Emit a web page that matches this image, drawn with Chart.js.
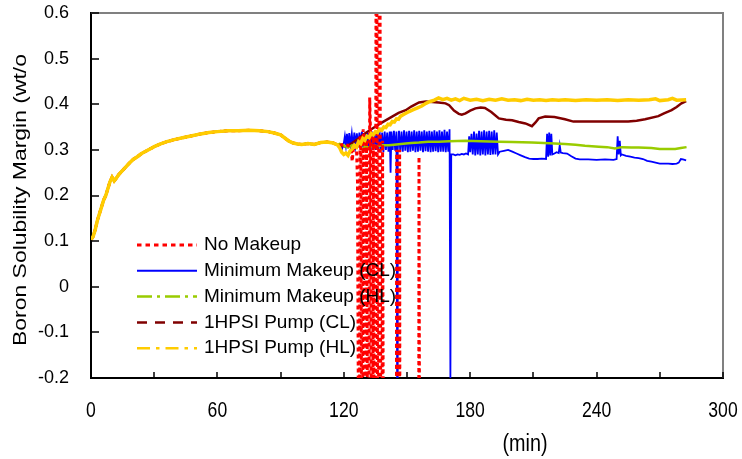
<!DOCTYPE html>
<html>
<head>
<meta charset="utf-8">
<script src="https://cdn.jsdelivr.net/npm/chart.js@4.4.1/dist/chart.umd.min.js"></script>
<style>
body { margin: 0; background: #fff; }
#wrap { width: 742px; height: 459px; }
</style>
</head>
<body>
<div id="wrap"><canvas id="myChart" width="742" height="459"></canvas></div>
<script>
const xTickValues = [0, 60, 120, 180, 240, 300];
const xTickLabels = ['0', '60', '120', '180', '240', '300'];
const xTickMarks = [0, 30, 60, 90, 120, 150, 180, 210, 240, 270, 300];
const yTickValues = [-0.2, -0.1, 0, 0.1, 0.2, 0.3, 0.4, 0.5, 0.6];
const yTickLabels = ['-0.2', '-0.1', '0', '0.1', '0.2', '0.3', '0.4', '0.5', '0.6'];
const xTitle = '(min)';
const yTitle = 'Boron Solubility Margin (wt/o';

const seriesNames = ['No Makeup', 'Minimum Makeup (CL)', 'Minimum Makeup (HL)', '1HPSI Pump (CL)', '1HPSI Pump (HL)'];

// 0~117분은 다섯 경우 모두 같은 곡선
const baseT = [0, 1, 2, 3, 4, 5, 6, 7, 8, 9, 10, 11, 12, 13, 14, 16, 18, 20, 22, 24, 26, 28, 30, 33, 36, 40, 44, 48, 52, 56, 60, 65, 70, 75, 80, 84, 87, 90, 92, 94, 96, 98, 100, 103, 106, 109, 112, 115, 117];
const baseV = [0.103, 0.11, 0.125, 0.145, 0.16, 0.175, 0.19, 0.2, 0.215, 0.23, 0.24, 0.232, 0.238, 0.245, 0.25, 0.26, 0.27, 0.279, 0.285, 0.292, 0.297, 0.302, 0.307, 0.313, 0.318, 0.323, 0.327, 0.331, 0.335, 0.338, 0.340, 0.342, 0.342, 0.343, 0.342, 0.34, 0.337, 0.333, 0.326, 0.319, 0.315, 0.313, 0.312, 0.314, 0.312, 0.316, 0.317, 0.315, 0.311];

const noMakeupTail = [[118,0.31],[120,0.312],[122,0.31],[123.5,0.30],[124,0.275],[124.5,0.30],[126,0.31],[126.5,0.23],[126.9,-0.25],[127.5,-0.25],[127.7,0.33],[128.1,0.30],[128.4,-0.25],[129,-0.25],[129.2,0.345],[129.6,0.31],[129.9,-0.25],[130.6,-0.25],[130.8,0.33],[131.2,-0.25],[132,-0.25],[132.3,0.415],[132.7,0.33],[133,-0.25],[133.8,-0.25],[134,0.33],[134.3,-0.25],[135,-0.25],[135.3,0.65],[135.7,0.65],[136,-0.25],[136.5,-0.25],[136.8,0.65],[137.2,0.65],[137.5,-0.25],[138.2,-0.25],[138.4,0.32],[138.7,-0.25],[145,-0.25],[145.1,0.30],[145.2,-0.25],[146.4,-0.25],[146.5,0.30],[146.6,-0.25],[155.6,-0.25],[155.7,0.285],[155.9,-0.25]];

const minCLTail = [[118,0.31],[119,0.30],[120,0.315],[120.5,0.33],[121,0.31],[121.5,0.335],[122,0.305],[122.6,0.337],[123.2,0.31],[123.8,0.335],[124.4,0.305],[125,0.338],[125.6,0.31],[126.2,0.336],[126.8,0.306],[127.4,0.338],[128,0.31],[128.6,0.34],[129.2,0.306],[129.8,0.336],[130.4,0.31],[131,0.34],[131.6,0.305],[132.2,0.337],[132.8,0.30],[133.4,0.34],[134,0.31],[134.6,0.338],[135.2,0.30],[135.8,0.34],[136.4,0.296],[137,0.34],[137.6,0.30],[138.2,0.338],[138.8,0.295],[139.4,0.34],[140,0.30],[140.6,0.338],[141.2,0.296],[141.8,0.34],[142.2,0.25],[142.6,0.34],[143.2,0.30],[143.8,0.342],[144.4,0.298],[145,0.34],[145.3,-0.2],[145.6,0.30],[146.2,0.342],[146.8,0.296],[147.4,0.34],[148,0.296],[148.6,0.343],[149.2,0.298],[149.8,0.34],[150.4,0.295],[151,0.342],[151.6,0.296],[152.2,0.34],[152.8,0.298],[153.4,0.343],[154,0.295],[154.6,0.34],[155.2,0.296],[155.8,0.342],[156.4,0.298],[157,0.34],[157.6,0.295],[158.2,0.343],[158.8,0.297],[159.4,0.34],[160,0.296],[160.6,0.342],[161.2,0.295],[161.8,0.34],[162.4,0.296],[163,0.343],[163.6,0.297],[164.2,0.34],[164.8,0.295],[165.4,0.343],[166,0.296],[166.6,0.34],[167.2,0.296],[167.8,0.344],[168.4,0.295],[169,0.34],[169.6,0.296],[170.2,0.345],[170.6,-0.2],[171,0.29],[172,0.29],[173,0.288],[174,0.29],[175,0.289],[176,0.291],[177,0.29],[178,0.292],[179,0.29],[179.5,0.33],[180,0.295],[180.6,0.335],[181.2,0.29],[181.8,0.34],[182.4,0.288],[183,0.336],[183.6,0.29],[184.2,0.342],[184.8,0.288],[185.4,0.34],[186,0.29],[186.6,0.343],[187.2,0.288],[187.8,0.34],[188.4,0.29],[189,0.342],[189.6,0.289],[190.2,0.34],[190.8,0.29],[191.4,0.343],[192,0.29],[192.6,0.338],[193.2,0.29],[194,0.296],[196,0.298],[198,0.30],[200,0.296],[202,0.292],[204,0.288],[206,0.284],[208,0.281],[210,0.28],[212,0.28],[214,0.281],[216,0.28],[216.5,0.335],[217,0.285],[217.5,0.338],[218,0.288],[218.5,0.335],[219,0.29],[220,0.292],[221,0.295],[222,0.293],[222.5,0.31],[223,0.294],[224,0.293],[226,0.292],[228,0.286],[230,0.281],[232,0.279],[236,0.279],[240,0.278],[244,0.279],[248,0.278],[249.5,0.28],[250,0.33],[250.5,0.29],[251,0.32],[251.5,0.288],[252,0.29],[254,0.287],[256,0.285],[258,0.283],[260,0.282],[262,0.28],[264,0.276],[266,0.274],[268,0.272],[270,0.27],[272,0.27],[274,0.27],[276,0.269],[278,0.27],[279,0.272],[280,0.28],[281,0.279],[282.5,0.277]];

const minHLTail = [[118,0.313],[120,0.31],[122,0.305],[124,0.31],[125.7,0.305],[127,0.31],[129,0.3],[130,0.308],[132,0.305],[134,0.31],[136,0.308],[138,0.31],[141.5,0.31],[145,0.312],[149.4,0.314],[152,0.315],[155.7,0.316],[160,0.318],[165,0.318],[170,0.319],[177.8,0.32],[185,0.319],[193.6,0.318],[200,0.317],[209.3,0.316],[215,0.315],[220,0.314],[225,0.313],[230,0.311],[234.5,0.309],[241,0.307],[245,0.306],[248.7,0.303],[252,0.306],[256.5,0.305],[260,0.305],[266,0.304],[270,0.302],[272.6,0.302],[277.3,0.302],[280,0.304],[282.7,0.306]];

const hpsiCLTail = [[118,0.31],[121,0.307],[124,0.315],[127,0.325],[130,0.336],[133.6,0.347],[137,0.357],[141.5,0.369],[146,0.381],[149.4,0.387],[152,0.395],[155.7,0.404],[159,0.406],[162,0.405],[165,0.404],[168.3,0.402],[170,0.398],[172.3,0.386],[174.6,0.379],[176,0.377],[177.8,0.38],[180,0.386],[182.5,0.391],[185,0.393],[187,0.392],[190,0.383],[193.6,0.369],[197,0.366],[199.9,0.365],[203,0.361],[206.2,0.358],[209.3,0.352],[211,0.36],[212.5,0.369],[215.6,0.373],[220,0.372],[225,0.367],[229,0.362],[240,0.362],[255,0.362],[259,0.364],[263,0.367],[269.3,0.374],[272,0.38],[275.6,0.387],[278,0.394],[280.3,0.402],[282.5,0.407]];

const hpsiHLTail = [[118,0.305],[119,0.295],[120,0.29],[121,0.293],[122,0.288],[123,0.298],[124,0.302],[125,0.31],[126,0.306],[127,0.318],[128,0.314],[129,0.325],[130,0.321],[131,0.33],[132,0.327],[133,0.336],[134,0.333],[135,0.34],[136,0.338],[137,0.345],[138,0.343],[139,0.35],[140,0.349],[141,0.356],[142,0.355],[143,0.362],[144,0.361],[145,0.368],[146,0.367],[147,0.374],[149,0.379],[151,0.384],[153,0.388],[155,0.392],[157,0.396],[159,0.402],[161,0.406],[163,0.409],[165,0.414],[167,0.41],[169,0.413],[171,0.409],[173,0.412],[175,0.408],[177,0.413],[180,0.409],[183,0.411],[186,0.408],[189,0.411],[192,0.409],[195,0.412],[198,0.409],[201,0.41],[204,0.408],[207,0.411],[210,0.409],[213,0.41],[216,0.408],[219,0.41],[222,0.409],[225,0.41],[230,0.408],[235,0.41],[240,0.409],[245,0.41],[250,0.408],[255,0.41],[260,0.409],[265,0.41],[268,0.412],[270,0.408],[274,0.41],[276,0.413],[278,0.409],[282.5,0.41]];

function toPoints(tail){
	let pts = baseT.map((t, i) => ({x: t, y: baseV[i]}));
	tail.forEach((p) => { pts.push({x: p[0], y: p[1]}); });
	return pts;
}

// 좁게 눌린 글자 (원본 그림이 그렇게 되어 있음)
function squeezedText(ctx, text, x, y, sx){
	ctx.save();
	ctx.translate(x, y);
	ctx.scale(sx, 1);
	ctx.fillText(text, 0, 0);
	ctx.restore();
}

// 테두리, 안쪽 눈금, x 눈금 글자, 축 제목, 범례
const frameAndText = {
	id: 'frameAndText',
	afterDraw(chart){
		const ctx = chart.ctx;
		const a = chart.chartArea;
		const xs = chart.scales.x;
		const ys = chart.scales.y;

		ctx.save();
		ctx.strokeStyle = '#808080';
		ctx.lineWidth = 2;
		ctx.beginPath();
		ctx.moveTo(a.left, a.top);
		ctx.lineTo(a.right, a.top);
		ctx.lineTo(a.right, a.bottom);
		ctx.stroke();

		ctx.strokeStyle = '#000';
		ctx.lineWidth = 1.5;
		ctx.beginPath();
		xTickMarks.forEach((v) => {
			const px = Math.round(xs.getPixelForValue(v));
			ctx.moveTo(px, a.bottom);
			ctx.lineTo(px, a.bottom - 6);
		});
		yTickValues.forEach((v) => {
			const py = Math.round(ys.getPixelForValue(v));
			ctx.moveTo(a.left, py);
			ctx.lineTo(a.left + 8, py);
		});
		ctx.stroke();

		ctx.fillStyle = '#000';
		ctx.textAlign = 'center';
		ctx.textBaseline = 'middle';
		ctx.font = '22px "Liberation Sans", Arial, sans-serif';
		xTickValues.forEach((v, i) => {
			squeezedText(ctx, xTickLabels[i], xs.getPixelForValue(v), a.bottom + 33, 0.8);
		});

		ctx.font = '23px "Liberation Sans", Arial, sans-serif';
		squeezedText(ctx, xTitle, 525, 445, 0.86);

		ctx.font = '18px "Liberation Sans", Arial, sans-serif';
		const w = ctx.measureText(yTitle).width;
		ctx.translate(21, 200);
		ctx.rotate(-Math.PI / 2);
		ctx.scale(292 / w, 1);
		ctx.fillText(yTitle, 0, 0);
		ctx.restore();

		ctx.save();
		ctx.font = '19px "Liberation Sans", Arial, sans-serif';
		ctx.textAlign = 'left';
		ctx.textBaseline = 'middle';
		chart.data.datasets.forEach((ds, i) => {
			const y = 245 + i * 25.8;
			ctx.strokeStyle = ds.borderColor;
			ctx.lineWidth = ds.legendWidth;
			ctx.setLineDash(ds.legendDash);
			ctx.beginPath();
			ctx.moveTo(137, y);
			ctx.lineTo(197, y);
			ctx.stroke();
			ctx.setLineDash([]);
			ctx.fillStyle = '#000';
			ctx.fillText(ds.label, 204, y);
		});
		ctx.restore();
	}
};

const ctx = document.getElementById('myChart');

new Chart(ctx, {
	type: 'line',
	data: {
		datasets: [
			{ label: seriesNames[0], data: toPoints(noMakeupTail), borderColor: '#FF0000', borderWidth: 3, borderDash: [4, 3], order: 1, legendDash: [4.5, 4], legendWidth: 3 },
			{ label: seriesNames[1], data: toPoints(minCLTail), borderColor: '#0000FF', borderWidth: 1.8, order: 4, legendDash: [], legendWidth: 2 },
			{ label: seriesNames[2], data: toPoints(minHLTail), borderColor: '#99CC00', borderWidth: 2.5, order: 2, legendDash: [15, 5, 3, 5], legendWidth: 2.5 },
			{ label: seriesNames[3], data: toPoints(hpsiCLTail), borderColor: '#800000', borderWidth: 2.5, order: 3, legendDash: [10, 8], legendWidth: 2.5 },
			{ label: seriesNames[4], data: toPoints(hpsiHLTail), borderColor: '#FFCC00', borderWidth: 3.5, order: 0, legendDash: [13, 6, 3.5, 6], legendWidth: 2.5 }
		]
	},
	options: {
		responsive: false,
		animation: false,
		devicePixelRatio: 1,
		layout: { padding: { top: 13, right: 19, left: 0, bottom: 0 } },
		plugins: { legend: { display: false }, tooltip: { enabled: false } },
		elements: { point: { radius: 0 }, line: { tension: 0 } },
		datasets: { line: { clip: 0 } },
		scales: {
			x: {
				type: 'linear',
				min: 0,
				max: 300,
				grid: { display: false },
				border: { color: '#000', width: 2 },
				ticks: { display: false },
				afterBuildTicks: (s) => { s.ticks = xTickValues.map((v) => ({ value: v })); },
				afterFit: (s) => { s.height = 81; s.paddingLeft = 0; s.paddingRight = 0; }
			},
			y: {
				min: -0.2,
				max: 0.6,
				grid: { display: false },
				border: { color: '#000', width: 2 },
				ticks: {
					color: '#000',
					padding: 14,
					autoSkip: false,
					font: { family: '"Liberation Sans", Arial, sans-serif', size: 18 },
					callback: (v) => yTickLabels[yTickValues.findIndex((t) => Math.abs(t - v) < 1e-6)]
				},
				afterBuildTicks: (s) => { s.ticks = yTickValues.map((v) => ({ value: v })); },
				afterFit: (s) => { s.width = 91; s.paddingTop = 0; s.paddingBottom = 0; }
			}
		}
	},
	plugins: [frameAndText]
});
</script>
</body>
</html>
